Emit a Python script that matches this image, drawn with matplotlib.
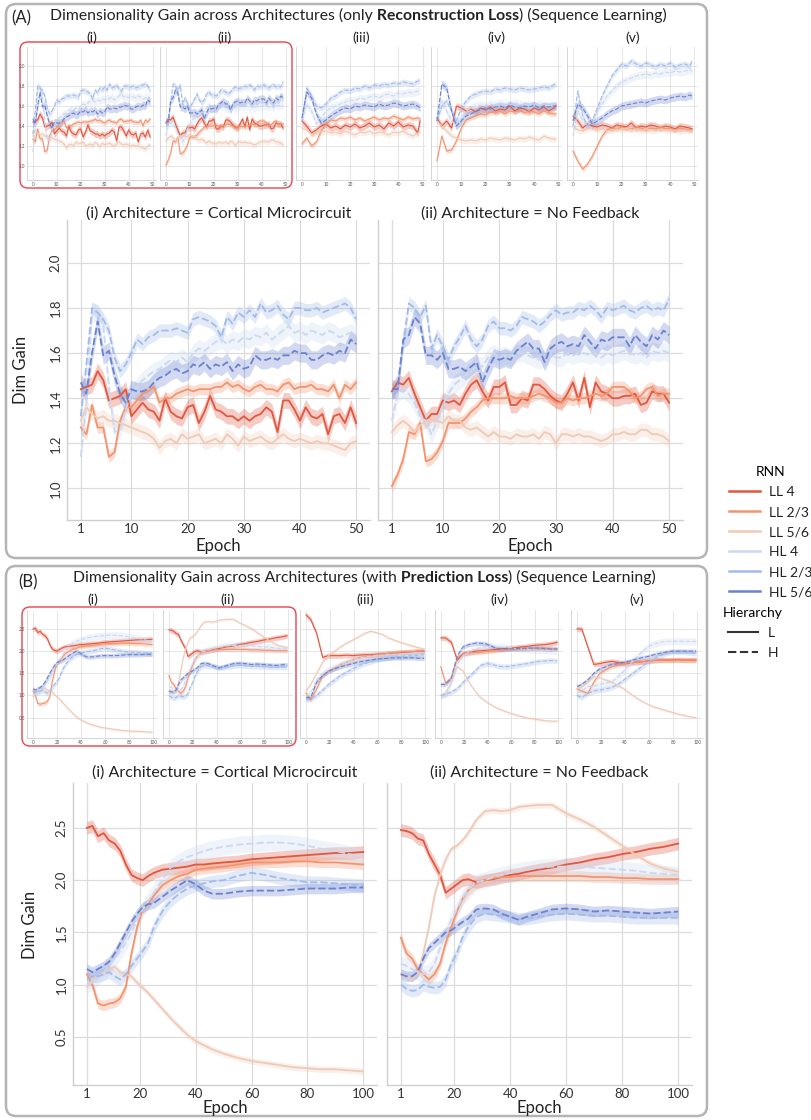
import matplotlib
matplotlib.use("Agg")
import matplotlib.pyplot as plt
from matplotlib.patches import FancyBboxPatch
from matplotlib.lines import Line2D
import numpy as np

W, H = 812, 1120
plt.rcParams['font.family'] = ['Lato', 'DejaVu Sans']

# ---------------------------------------------------------------- data
SERIES = ['LL 4', 'LL 2/3', 'LL 5/6', 'HL 4', 'HL 2/3', 'HL 5/6']
COLORS = ['#e1573f', '#f4946e', '#efcab7', '#cbd8f0', '#a2bbeb', '#6a82cf']
ARCH_NAMES = ['Cortical Microcircuit', 'No Feedback']
ROMAN = ['(i)', '(ii)', '(iii)', '(iv)', '(v)']

# (A) reconstruction loss, 50 epochs
EPOCHS_A = list(range(1, 51))
EPOCHS_A_SMALL = list(range(1, 50, 2)) + [50]
BAND_A = [0.035, 0.025, 0.03, 0.04, 0.03, 0.04]

CM_A_LL4 = [1.44, 1.45, 1.46, 1.52, 1.48, 1.39, 1.40, 1.41, 1.44, 1.32,
            1.35, 1.38, 1.35, 1.34, 1.30, 1.40, 1.34, 1.32, 1.31, 1.36,
            1.37, 1.29, 1.34, 1.41, 1.35, 1.34, 1.32, 1.32, 1.30, 1.32,
            1.30, 1.32, 1.33, 1.36, 1.34, 1.25, 1.39, 1.39, 1.35, 1.30,
            1.36, 1.32, 1.31, 1.33, 1.24, 1.32, 1.33, 1.29, 1.36, 1.29]
CM_A_LL23 = [1.27, 1.24, 1.37, 1.27, 1.27, 1.14, 1.16, 1.30, 1.36, 1.36,
             1.39, 1.42, 1.43, 1.45, 1.38, 1.40, 1.40, 1.42, 1.43, 1.44,
             1.43, 1.44, 1.44, 1.44, 1.45, 1.45, 1.47, 1.45, 1.46, 1.44,
             1.43, 1.45, 1.46, 1.44, 1.44, 1.43, 1.46, 1.47, 1.44, 1.45,
             1.45, 1.46, 1.44, 1.44, 1.43, 1.46, 1.40, 1.46, 1.44, 1.47]
CM_A_LL56 = [1.30, 1.36, 1.33, 1.31, 1.32, 1.30, 1.30, 1.29, 1.28, 1.27,
             1.26, 1.25, 1.24, 1.22, 1.18, 1.21, 1.22, 1.20, 1.24, 1.22,
             1.23, 1.24, 1.20, 1.21, 1.22, 1.20, 1.24, 1.22, 1.19, 1.23,
             1.21, 1.22, 1.23, 1.21, 1.20, 1.22, 1.24, 1.22, 1.21, 1.22,
             1.21, 1.20, 1.21, 1.20, 1.20, 1.19, 1.18, 1.17, 1.20, 1.21]
CM_A_HL4 = [1.14, 1.38, 1.78, 1.78, 1.72, 1.45, 1.25, 1.26, 1.35, 1.42,
            1.45, 1.48, 1.50, 1.52, 1.53, 1.55, 1.57, 1.56, 1.58, 1.56,
            1.60, 1.62, 1.61, 1.63, 1.65, 1.66, 1.64, 1.66, 1.65, 1.67,
            1.66, 1.68, 1.67, 1.69, 1.66, 1.68, 1.70, 1.72, 1.69, 1.70,
            1.68, 1.70, 1.69, 1.68, 1.70, 1.69, 1.67, 1.68, 1.69, 1.68]
CM_A_HL23 = [1.32, 1.55, 1.80, 1.78, 1.75, 1.70, 1.58, 1.52, 1.55, 1.60,
             1.66, 1.64, 1.67, 1.68, 1.70, 1.70, 1.70, 1.71, 1.70, 1.69,
             1.75, 1.76, 1.75, 1.74, 1.72, 1.67, 1.76, 1.73, 1.78, 1.76,
             1.79, 1.76, 1.82, 1.78, 1.79, 1.81, 1.77, 1.75, 1.80, 1.80,
             1.79, 1.79, 1.80, 1.78, 1.79, 1.80, 1.81, 1.82, 1.80, 1.75]
CM_A_HL56 = [1.47, 1.42, 1.60, 1.74, 1.59, 1.61, 1.50, 1.42, 1.38, 1.44,
             1.43, 1.43, 1.44, 1.47, 1.49, 1.50, 1.52, 1.53, 1.51, 1.52,
             1.55, 1.54, 1.56, 1.53, 1.55, 1.54, 1.56, 1.52, 1.55, 1.53,
             1.54, 1.59, 1.57, 1.57, 1.58, 1.57, 1.59, 1.59, 1.61, 1.60,
             1.60, 1.57, 1.57, 1.59, 1.60, 1.59, 1.61, 1.60, 1.66, 1.64]

NF_A_LL4 = [1.43, 1.47, 1.46, 1.49, 1.42, 1.36, 1.30, 1.33, 1.33, 1.39,
            1.38, 1.39, 1.37, 1.42, 1.46, 1.48, 1.43, 1.39, 1.45, 1.45,
            1.47, 1.37, 1.37, 1.40, 1.39, 1.46, 1.46, 1.44, 1.41, 1.39,
            1.38, 1.42, 1.47, 1.39, 1.49, 1.36, 1.47, 1.43, 1.42, 1.40,
            1.40, 1.41, 1.41, 1.42, 1.37, 1.38, 1.43, 1.42, 1.42, 1.38]
NF_A_LL23 = [1.01, 1.06, 1.13, 1.25, 1.24, 1.29, 1.12, 1.13, 1.16, 1.21,
             1.29, 1.29, 1.29, 1.31, 1.34, 1.36, 1.39, 1.40, 1.40, 1.40,
             1.40, 1.41, 1.40, 1.40, 1.40, 1.41, 1.42, 1.41, 1.40, 1.38,
             1.38, 1.40, 1.39, 1.40, 1.40, 1.41, 1.42, 1.41, 1.42, 1.45,
             1.45, 1.45, 1.43, 1.40, 1.41, 1.44, 1.45, 1.41, 1.42, 1.42]
NF_A_LL56 = [1.25, 1.28, 1.30, 1.28, 1.25, 1.28, 1.30, 1.31, 1.30, 1.29,
             1.32, 1.30, 1.30, 1.27, 1.26, 1.27, 1.25, 1.23, 1.25, 1.23,
             1.23, 1.22, 1.24, 1.23, 1.23, 1.24, 1.22, 1.25, 1.24, 1.20,
             1.24, 1.24, 1.23, 1.24, 1.23, 1.23, 1.22, 1.21, 1.22, 1.24,
             1.24, 1.25, 1.24, 1.24, 1.26, 1.26, 1.24, 1.24, 1.23, 1.21]
NF_A_HL4 = [1.30, 1.42, 1.44, 1.42, 1.38, 1.32, 1.30, 1.24, 1.30, 1.37,
            1.42, 1.46, 1.48, 1.50, 1.52, 1.55, 1.54, 1.58, 1.60, 1.58,
            1.59, 1.58, 1.60, 1.60, 1.59, 1.58, 1.57, 1.58, 1.60, 1.58,
            1.58, 1.60, 1.59, 1.60, 1.60, 1.59, 1.60, 1.58, 1.60, 1.59,
            1.60, 1.61, 1.60, 1.59, 1.60, 1.58, 1.61, 1.60, 1.61, 1.60]
NF_A_HL23 = [1.42, 1.44, 1.64, 1.82, 1.80, 1.76, 1.81, 1.62, 1.68, 1.63,
             1.57, 1.63, 1.67, 1.72, 1.66, 1.63, 1.66, 1.72, 1.74, 1.71,
             1.71, 1.70, 1.72, 1.76, 1.75, 1.74, 1.72, 1.74, 1.77, 1.79,
             1.77, 1.78, 1.78, 1.80, 1.79, 1.81, 1.79, 1.76, 1.80, 1.79,
             1.80, 1.81, 1.79, 1.78, 1.80, 1.81, 1.79, 1.80, 1.79, 1.84]
NF_A_HL56 = [1.44, 1.44, 1.66, 1.68, 1.76, 1.73, 1.59, 1.59, 1.57, 1.60,
             1.53, 1.53, 1.54, 1.52, 1.54, 1.56, 1.47, 1.53, 1.58, 1.57,
             1.58, 1.57, 1.61, 1.63, 1.65, 1.62, 1.62, 1.56, 1.62, 1.64,
             1.65, 1.63, 1.64, 1.63, 1.68, 1.65, 1.62, 1.66, 1.65, 1.67,
             1.67, 1.67, 1.63, 1.68, 1.65, 1.63, 1.68, 1.66, 1.70, 1.68]

A3_LL4 = [1.45, 1.40, 1.33, 1.36, 1.40, 1.42, 1.38, 1.40, 1.37, 1.41,
          1.39, 1.42, 1.38, 1.40, 1.43, 1.39, 1.41, 1.37, 1.43, 1.40,
          1.44, 1.39, 1.41, 1.40, 1.33, 1.45]
A3_LL23 = [1.22, 1.28, 1.20, 1.24, 1.35, 1.42, 1.46, 1.45, 1.48, 1.47,
           1.49, 1.46, 1.48, 1.45, 1.47, 1.49, 1.46, 1.48, 1.47, 1.50,
           1.48, 1.46, 1.49, 1.47, 1.48, 1.47]
A3_LL56 = [1.38, 1.36, 1.32, 1.33, 1.34, 1.35, 1.33, 1.34, 1.32, 1.35,
           1.33, 1.31, 1.34, 1.33, 1.35, 1.32, 1.34, 1.33, 1.31, 1.34,
           1.33, 1.35, 1.32, 1.30, 1.33, 1.34]
A3_HL4 = [1.45, 1.62, 1.55, 1.42, 1.48, 1.55, 1.58, 1.60, 1.62, 1.64,
          1.66, 1.65, 1.68, 1.67, 1.69, 1.70, 1.68, 1.71, 1.72, 1.70,
          1.73, 1.72, 1.74, 1.73, 1.75, 1.75]
A3_HL23 = [1.45, 1.78, 1.70, 1.60, 1.58, 1.62, 1.68, 1.70, 1.74, 1.76,
           1.75, 1.78, 1.77, 1.80, 1.78, 1.81, 1.80, 1.82, 1.81, 1.83,
           1.82, 1.84, 1.83, 1.82, 1.85, 1.85]
A3_HL56 = [1.48, 1.74, 1.68, 1.52, 1.43, 1.46, 1.50, 1.53, 1.56, 1.58,
           1.57, 1.60, 1.59, 1.61, 1.60, 1.59, 1.62, 1.60, 1.61, 1.63,
           1.62, 1.60, 1.61, 1.62, 1.60, 1.58]

A4_LL4 = [1.48, 1.40, 1.45, 1.38, 1.60, 1.58, 1.55, 1.57, 1.54, 1.58,
          1.56, 1.59, 1.55, 1.57, 1.56, 1.60, 1.55, 1.58, 1.57, 1.54,
          1.58, 1.56, 1.59, 1.55, 1.58, 1.60]
A4_LL23 = [1.05, 1.30, 1.15, 1.16, 1.25, 1.38, 1.46, 1.48, 1.50, 1.52,
           1.51, 1.54, 1.53, 1.55, 1.52, 1.55, 1.54, 1.56, 1.53, 1.55,
           1.54, 1.52, 1.55, 1.53, 1.52, 1.52]
A4_LL56 = [1.45, 1.40, 1.35, 1.30, 1.28, 1.26, 1.25, 1.26, 1.25, 1.27,
           1.26, 1.28, 1.27, 1.26, 1.28, 1.27, 1.26, 1.28, 1.27, 1.29,
           1.27, 1.26, 1.30, 1.28, 1.27, 1.27]
A4_HL4 = [1.50, 1.65, 1.55, 1.45, 1.40, 1.48, 1.55, 1.58, 1.60, 1.61,
          1.60, 1.62, 1.61, 1.63, 1.62, 1.61, 1.63, 1.62, 1.61, 1.62,
          1.60, 1.62, 1.61, 1.60, 1.61, 1.60]
A4_HL23 = [1.45, 1.60, 1.65, 1.55, 1.45, 1.58, 1.65, 1.70, 1.72, 1.74,
           1.75, 1.74, 1.77, 1.76, 1.78, 1.77, 1.76, 1.78, 1.77, 1.76,
           1.77, 1.78, 1.79, 1.78, 1.81, 1.82]
A4_HL56 = [1.45, 1.82, 1.78, 1.55, 1.40, 1.45, 1.50, 1.52, 1.55, 1.56,
           1.58, 1.57, 1.59, 1.60, 1.58, 1.61, 1.59, 1.58, 1.60, 1.59,
           1.61, 1.58, 1.60, 1.59, 1.60, 1.60]

A5_LL4 = [1.50, 1.45, 1.38, 1.42, 1.40, 1.39, 1.41, 1.40, 1.38, 1.41,
          1.40, 1.39, 1.43, 1.38, 1.40, 1.39, 1.41, 1.40, 1.38, 1.40,
          1.39, 1.37, 1.40, 1.39, 1.38, 1.37]
A5_LL23 = [1.15, 1.05, 0.97, 1.02, 1.10, 1.20, 1.30, 1.36, 1.38, 1.37,
           1.39, 1.38, 1.37, 1.39, 1.38, 1.36, 1.38, 1.37, 1.39, 1.37,
           1.38, 1.36, 1.38, 1.37, 1.36, 1.36]
A5_LL56 = [1.40, 1.36, 1.35, 1.37, 1.38, 1.36, 1.37, 1.35, 1.36, 1.37,
           1.36, 1.38, 1.36, 1.37, 1.35, 1.37, 1.36, 1.35, 1.37, 1.36,
           1.35, 1.36, 1.34, 1.36, 1.35, 1.35]
A5_HL4 = [1.30, 1.55, 1.45, 1.40, 1.45, 1.55, 1.62, 1.70, 1.75, 1.80,
          1.84, 1.86, 1.88, 1.90, 1.91, 1.92, 1.91, 1.93, 1.92, 1.94,
          1.93, 1.95, 1.94, 1.95, 1.96, 1.95]
A5_HL23 = [1.40, 1.75, 1.50, 1.40, 1.45, 1.58, 1.70, 1.80, 1.90, 1.96,
           2.02, 2.00, 2.05, 2.02, 2.00, 2.03, 2.01, 1.99, 2.02, 2.00,
           2.03, 1.99, 2.01, 2.02, 2.00, 2.05]
A5_HL56 = [1.45, 1.62, 1.58, 1.50, 1.42, 1.45, 1.48, 1.52, 1.55, 1.57,
           1.60, 1.61, 1.62, 1.63, 1.64, 1.63, 1.65, 1.66, 1.67, 1.66,
           1.68, 1.69, 1.70, 1.69, 1.71, 1.70]

# (B) prediction loss, 100 epochs
EPOCHS_B = [1, 3, 5, 7, 9, 11, 13, 15, 17, 19,
            21, 23, 25, 28, 31, 34, 37, 40, 43, 46,
            50, 55, 60, 65, 70, 75, 80, 85, 90, 95, 100]
EPOCHS_B_SMALL = [1] + list(range(5, 101, 5))
BAND_B = [0.06, 0.05, 0.03, 0.08, 0.06, 0.05]

CM_B_LL4 = [2.50, 2.52, 2.42, 2.45, 2.38, 2.35, 2.28, 2.15, 2.05, 2.02,
            2.00, 2.04, 2.07, 2.10, 2.11, 2.12, 2.13, 2.15, 2.15, 2.16,
            2.17, 2.18, 2.20, 2.21, 2.22, 2.23, 2.24, 2.25, 2.26, 2.26, 2.27]
CM_B_LL23 = [1.10, 1.00, 0.82, 0.80, 0.82, 0.83, 0.87, 0.98, 1.30, 1.55,
             1.72, 1.78, 1.85, 1.95, 2.00, 2.04, 2.06, 2.10, 2.11, 2.12,
             2.13, 2.15, 2.17, 2.17, 2.17, 2.18, 2.18, 2.17, 2.17, 2.16, 2.15]
CM_B_LL56 = [0.98, 1.05, 1.08, 1.12, 1.15, 1.17, 1.12, 1.10, 1.08, 1.02,
             0.97, 0.92, 0.86, 0.77, 0.68, 0.60, 0.52, 0.46, 0.42, 0.38,
             0.34, 0.30, 0.27, 0.25, 0.23, 0.21, 0.20, 0.19, 0.19, 0.18, 0.17]
CM_B_HL4 = [1.00, 1.02, 1.08, 1.12, 1.18, 1.25, 1.32, 1.40, 1.50, 1.62,
            1.72, 1.80, 1.88, 2.00, 2.12, 2.18, 2.22, 2.25, 2.28, 2.30,
            2.32, 2.34, 2.35, 2.36, 2.36, 2.35, 2.33, 2.30, 2.28, 2.25, 2.22]
CM_B_HL23 = [1.05, 1.08, 1.08, 1.10, 1.12, 1.08, 1.05, 1.10, 1.18, 1.25,
             1.32, 1.40, 1.55, 1.70, 1.80, 1.87, 1.92, 1.95, 1.97, 1.99,
             2.00, 2.04, 2.07, 2.05, 2.02, 2.00, 1.98, 1.98, 1.97, 1.96, 1.95]
CM_B_HL56 = [1.15, 1.12, 1.15, 1.18, 1.22, 1.30, 1.40, 1.50, 1.60, 1.68,
             1.74, 1.77, 1.78, 1.84, 1.90, 1.95, 2.00, 1.96, 1.90, 1.87,
             1.87, 1.89, 1.90, 1.90, 1.90, 1.91, 1.92, 1.92, 1.92, 1.93, 1.93]

NF_B_LL4 = [2.48, 2.47, 2.45, 2.40, 2.38, 2.25, 2.15, 2.05, 1.88, 1.92,
            1.96, 2.00, 2.01, 1.98, 2.00, 2.01, 2.03, 2.05, 2.06, 2.08,
            2.10, 2.12, 2.15, 2.17, 2.20, 2.22, 2.25, 2.27, 2.30, 2.32, 2.35]
NF_B_LL23 = [1.45, 1.30, 1.25, 1.15, 1.10, 1.05, 1.10, 1.20, 1.40, 1.55,
             1.70, 1.82, 1.90, 1.97, 2.00, 2.02, 2.03, 2.03, 2.04, 2.04,
             2.04, 2.04, 2.04, 2.04, 2.03, 2.03, 2.02, 2.02, 2.01, 2.01, 2.01]
NF_B_LL56 = [1.10, 1.08, 1.06, 1.10, 1.30, 1.55, 1.85, 2.05, 2.20, 2.30,
             2.33, 2.38, 2.45, 2.58, 2.66, 2.67, 2.66, 2.67, 2.70, 2.71,
             2.72, 2.72, 2.64, 2.58, 2.51, 2.42, 2.33, 2.24, 2.16, 2.11, 2.08]
NF_B_HL4 = [1.20, 1.18, 1.15, 1.12, 1.10, 1.12, 1.20, 1.35, 1.48, 1.62,
            1.72, 1.83, 1.90, 1.98, 2.00, 2.03, 2.05, 2.07, 2.09, 2.10,
            2.12, 2.13, 2.13, 2.13, 2.12, 2.11, 2.10, 2.09, 2.07, 2.06, 2.05]
NF_B_HL23 = [1.00, 0.96, 0.94, 0.95, 1.00, 0.98, 0.97, 0.98, 1.05, 1.20,
             1.30, 1.45, 1.55, 1.65, 1.68, 1.67, 1.66, 1.65, 1.63, 1.63,
             1.65, 1.67, 1.68, 1.67, 1.66, 1.66, 1.65, 1.64, 1.64, 1.64, 1.64]
NF_B_HL56 = [1.10, 1.08, 1.08, 1.12, 1.25, 1.35, 1.40, 1.45, 1.50, 1.52,
             1.56, 1.60, 1.63, 1.72, 1.73, 1.72, 1.68, 1.65, 1.62, 1.65,
             1.68, 1.72, 1.73, 1.72, 1.70, 1.71, 1.70, 1.69, 1.68, 1.69, 1.70]

B3_LL4 = [2.82, 2.72, 2.40, 1.86, 1.90, 1.90, 1.90, 1.91, 1.90, 1.91,
          1.92, 1.92, 1.93, 1.94, 1.95, 1.96, 1.97, 1.98, 1.99, 2.00, 2.00]
B3_LL23 = [1.05, 0.90, 1.15, 1.45, 1.55, 1.62, 1.70, 1.75, 1.80, 1.84,
           1.88, 1.90, 1.92, 1.94, 1.95, 1.97, 1.98, 1.99, 1.99, 2.00, 2.00]
B3_LL56 = [1.10, 1.25, 1.50, 1.75, 1.90, 2.00, 2.10, 2.18, 2.25, 2.32,
           2.40, 2.45, 2.42, 2.38, 2.30, 2.25, 2.20, 2.16, 2.12, 2.08, 2.05]
B3_HL4 = [1.00, 1.05, 1.35, 1.50, 1.58, 1.64, 1.70, 1.75, 1.80, 1.84,
          1.87, 1.89, 1.90, 1.91, 1.92, 1.93, 1.93, 1.94, 1.95, 1.96, 1.97]
B3_HL23 = [0.90, 0.92, 1.00, 1.12, 1.25, 1.35, 1.45, 1.52, 1.60, 1.66,
           1.72, 1.76, 1.80, 1.83, 1.85, 1.87, 1.88, 1.89, 1.90, 1.91, 1.92]
B3_HL56 = [0.95, 0.95, 1.30, 1.45, 1.55, 1.60, 1.65, 1.68, 1.72, 1.75,
           1.78, 1.80, 1.82, 1.83, 1.84, 1.85, 1.85, 1.85, 1.85, 1.84, 1.84]

B4_LL4 = [2.30, 2.30, 2.20, 1.80, 1.95, 1.97, 2.00, 2.01, 2.02, 2.03,
          2.05, 2.06, 2.07, 2.08, 2.10, 2.11, 2.13, 2.14, 2.15, 2.17, 2.20]
B4_LL23 = [1.65, 1.28, 1.40, 1.85, 1.95, 1.96, 1.97, 1.98, 2.00, 2.01,
           2.02, 2.03, 2.05, 2.05, 2.05, 2.05, 2.05, 2.05, 2.05, 2.05, 2.05]
B4_LL56 = [1.00, 1.05, 1.30, 1.65, 1.55, 1.30, 1.10, 0.95, 0.85, 0.77,
           0.70, 0.65, 0.60, 0.56, 0.52, 0.49, 0.47, 0.45, 0.43, 0.42, 0.42]
B4_HL4 = [0.95, 1.05, 1.30, 1.70, 1.90, 1.98, 2.05, 2.08, 2.10, 2.10,
          2.10, 2.09, 2.08, 2.06, 2.05, 2.04, 2.03, 2.02, 2.02, 2.01, 2.00]
B4_HL23 = [1.00, 1.02, 1.08, 1.15, 1.30, 1.42, 1.55, 1.68, 1.72, 1.70,
           1.66, 1.65, 1.66, 1.68, 1.70, 1.72, 1.75, 1.77, 1.78, 1.79, 1.78]
B4_HL56 = [1.25, 1.25, 1.40, 1.90, 2.10, 2.15, 2.18, 2.18, 2.16, 2.10,
           2.05, 2.05, 2.05, 2.06, 2.06, 2.07, 2.07, 2.07, 2.06, 2.05, 2.05]

B5_LL4 = [2.50, 2.50, 2.10, 1.70, 1.72, 1.75, 1.77, 1.75, 1.72, 1.73,
          1.75, 1.76, 1.78, 1.79, 1.80, 1.80, 1.80, 1.81, 1.80, 1.80, 1.80]
B5_LL23 = [1.15, 1.10, 1.05, 1.30, 1.50, 1.58, 1.65, 1.68, 1.72, 1.74,
           1.75, 1.76, 1.78, 1.79, 1.80, 1.80, 1.80, 1.80, 1.80, 1.80, 1.80]
B5_LL56 = [1.15, 1.20, 1.30, 1.42, 1.40, 1.35, 1.30, 1.22, 1.15, 1.05,
           0.95, 0.87, 0.80, 0.74, 0.70, 0.66, 0.62, 0.58, 0.55, 0.52, 0.50]
B5_HL4 = [1.05, 1.10, 1.20, 1.20, 1.25, 1.28, 1.30, 1.42, 1.55, 1.70,
          1.85, 1.98, 2.10, 2.16, 2.20, 2.22, 2.22, 2.23, 2.22, 2.22, 2.22]
B5_HL23 = [1.00, 0.95, 1.05, 1.10, 1.12, 1.15, 1.18, 1.25, 1.35, 1.45,
           1.55, 1.65, 1.75, 1.83, 1.90, 1.95, 1.98, 1.98, 1.98, 1.96, 1.95]
B5_HL56 = [1.20, 1.25, 1.35, 1.50, 1.60, 1.65, 1.70, 1.72, 1.75, 1.78,
           1.82, 1.85, 1.88, 1.92, 1.95, 1.98, 2.00, 2.00, 2.00, 2.00, 2.00]

CM_A = [CM_A_LL4, CM_A_LL23, CM_A_LL56, CM_A_HL4, CM_A_HL23, CM_A_HL56]
NF_A = [NF_A_LL4, NF_A_LL23, NF_A_LL56, NF_A_HL4, NF_A_HL23, NF_A_HL56]
A3 = [A3_LL4, A3_LL23, A3_LL56, A3_HL4, A3_HL23, A3_HL56]
A4 = [A4_LL4, A4_LL23, A4_LL56, A4_HL4, A4_HL23, A4_HL56]
A5 = [A5_LL4, A5_LL23, A5_LL56, A5_HL4, A5_HL23, A5_HL56]
CM_B = [CM_B_LL4, CM_B_LL23, CM_B_LL56, CM_B_HL4, CM_B_HL23, CM_B_HL56]
NF_B = [NF_B_LL4, NF_B_LL23, NF_B_LL56, NF_B_HL4, NF_B_HL23, NF_B_HL56]
B3 = [B3_LL4, B3_LL23, B3_LL56, B3_HL4, B3_HL23, B3_HL56]
B4 = [B4_LL4, B4_LL23, B4_LL56, B4_HL4, B4_HL23, B4_HL56]
B5 = [B5_LL4, B5_LL23, B5_LL56, B5_HL4, B5_HL23, B5_HL56]

# ---------------------------------------------------------------- helpers
GRID = '#dcdcdc'
SPINE = '#cfcfcf'
TEXT = '#222222'
DASH = (0, (4, 1.7))


def make_ax(x0, y0, x1, y1):
    return fig.add_axes([x0 / W, 1 - y1 / H, (x1 - x0) / W, (y1 - y0) / H])


def draw_lines(ax, epochs, values, band, lw, shift=0):
    x = np.asarray(epochs, dtype=float) - shift
    for name, col, y, b in zip(SERIES, COLORS, values, band):
        y = np.asarray(y, dtype=float)
        ax.fill_between(x, y - b, y + b, color=col, alpha=0.3, lw=0)
        ls = DASH if name.startswith('HL') else '-'
        ax.plot(x, y, color=col, lw=lw, ls=ls)


def style_ax(ax, small):
    ax.set_facecolor('white')
    ax.grid(True, color=GRID, lw=0.5 if small else 0.9)
    ax.set_axisbelow(True)
    for s in ['top', 'right']:
        ax.spines[s].set_visible(False)
    for s in ['left', 'bottom']:
        ax.spines[s].set_color(SPINE)
        ax.spines[s].set_linewidth(0.6 if small else 1.0)
    if small:
        ax.tick_params(length=0, labelsize=3.3, labelcolor='#555555', pad=1.5)
    else:
        ax.tick_params(length=0, labelsize=9.5, labelcolor='#333333', pad=4)
        ax.tick_params(axis='x', pad=2.5)


def chain_title(ax, x, y, parts, size):
    t = ax.text(x, y, parts[0][0], fontsize=size, fontweight=parts[0][1],
                ha='left', va='center', color=TEXT)
    for s, wt in parts[1:]:
        t = ax.annotate(s, xy=(1, 0), xycoords=t, ha='left', va='bottom',
                        fontsize=size, fontweight=wt, color=TEXT)


def rbox(ax, x0, y0, x1, y1, color, lw, r):
    ax.add_patch(FancyBboxPatch((x0, y0), x1 - x0, y1 - y0,
                                boxstyle=f'round,pad=0,rounding_size={r}',
                                fc='none', ec=color, lw=lw))


# ---------------------------------------------------------------- figure
fig = plt.figure(figsize=(W / 100, H / 100), dpi=100)
fig.patch.set_facecolor('white')

ov = fig.add_axes([0, 0, 1, 1])
ov.set_xlim(0, W)
ov.set_ylim(H, 0)
ov.axis('off')

rbox(ov, 6, 4, 707, 558, '#b4b4b4', 1.8, 10)
rbox(ov, 6, 566, 707, 1116, '#b4b4b4', 1.8, 10)
rbox(ov, 20, 42, 292, 188, '#e8434d', 1.0, 8)
rbox(ov, 22, 607, 296, 746, '#e8434d', 1.0, 8)

ov.text(21, 18, '(A)', fontsize=12, ha='center', va='center', color=TEXT)
ov.text(28, 582, '(B)', fontsize=12, ha='center', va='center', color=TEXT)
chain_title(ov, 50, 15, [('Dimensionality Gain across Architectures (only', 'normal'),
                         (' Reconstruction Loss', 'bold'),
                         (') (Sequence Learning)', 'normal')], 11.3)
chain_title(ov, 73, 577, [('Dimensionality Gain across Architectures (with', 'normal'),
                          (' Prediction Loss', 'bold'),
                          (') (Sequence Learning)', 'normal')], 11.3)

SMALL_A = [(27, 47, 156, 180), (160, 47, 289, 180), (296, 47, 426, 180),
           (431, 47, 562, 180), (567, 47, 698, 180)]
SMALL_B = [(27, 610, 158, 738), (163, 610, 293, 738), (300, 610, 430, 738),
           (435, 610, 563, 738), (571, 610, 702, 738)]
BIG_A = [(67, 220, 370, 520), (378, 220, 683, 520)]
BIG_B = [(73, 783, 377, 1085), (387, 783, 692, 1085)]

YLIM_A = (0.86, 2.19)
YLIM_B = (0.04, 2.93)
YT_A = [1.0, 1.2, 1.4, 1.6, 1.8, 2.0]
YT_B = [0.5, 1.0, 1.5, 2.0, 2.5]

small_sets = [
    (SMALL_A, [(EPOCHS_A, CM_A), (EPOCHS_A, NF_A), (EPOCHS_A_SMALL, A3),
               (EPOCHS_A_SMALL, A4), (EPOCHS_A_SMALL, A5)],
     BAND_A, YLIM_A, YT_A, [0, 10, 20, 30, 40, 50], 38),
    (SMALL_B, [(EPOCHS_B, CM_B), (EPOCHS_B, NF_B), (EPOCHS_B_SMALL, B3),
               (EPOCHS_B_SMALL, B4), (EPOCHS_B_SMALL, B5)],
     BAND_B, YLIM_B, YT_B, [0, 20, 40, 60, 80, 100], 600),
]

for rects, datasets, band, ylim, yt, xt, ty in small_sets:
    for k, (rect, (ep, vals)) in enumerate(zip(rects, datasets)):
        ax = make_ax(*rect)
        style_ax(ax, True)
        draw_lines(ax, ep, vals, band, 0.8, shift=1)
        ax.set_ylim(*ylim)
        ax.set_yticks(yt)
        ax.set_xticks(xt)
        if k > 0:
            ax.set_yticklabels([])
        ov.text((rect[0] + rect[2]) / 2, ty, ROMAN[k], fontsize=10,
                ha='center', va='center', color=TEXT)

big_sets = [
    (BIG_A, [(EPOCHS_A, CM_A), (EPOCHS_A, NF_A)], BAND_A, YLIM_A, YT_A,
     [1, 10, 20, 30, 40, 50], 214, 546, (21, 370)),
    (BIG_B, [(EPOCHS_B, CM_B), (EPOCHS_B, NF_B)], BAND_B, YLIM_B, YT_B,
     [1, 20, 40, 60, 80, 100], 773, 1108, (30, 925)),
]

for rects, datasets, band, ylim, yt, xt, ty, ey, dg in big_sets:
    for k, (rect, (ep, vals)) in enumerate(zip(rects, datasets)):
        ax = make_ax(*rect)
        style_ax(ax, False)
        draw_lines(ax, ep, vals, band, 1.3)
        ax.set_ylim(*ylim)
        ax.set_yticks(yt)
        ax.set_xticks(xt)
        if k > 0:
            ax.set_yticklabels([])
        else:
            for lab in ax.get_yticklabels():
                lab.set_rotation(90)
                lab.set_va('center')
        cx = (rect[0] + rect[2]) / 2
        ov.text(cx, ty, f'{ROMAN[k]} Architecture = {ARCH_NAMES[k]}',
                fontsize=11.5, ha='center', va='center', color=TEXT)
        ov.text(cx, ey, 'Epoch', fontsize=12, ha='center', va='center',
                color=TEXT)
    ov.text(dg[0], dg[1], 'Dim Gain', fontsize=12, rotation=90,
            ha='center', va='center', color=TEXT)

# ---------------------------------------------------------------- legends
rnn_handles = [Line2D([], [], color=c, lw=1.8) for c in COLORS]
leg1 = fig.legend(rnn_handles, SERIES, title='RNN', loc='upper left',
                  bbox_to_anchor=(729 / W, 1 - 466 / H), frameon=False,
                  fontsize=10, title_fontsize=10, borderpad=0,
                  borderaxespad=0, handlelength=2.2, handletextpad=0.65,
                  labelspacing=0.58)
hier_handles = [Line2D([], [], color='#333333', lw=1.5, ls='-'),
                Line2D([], [], color='#333333', lw=1.5, ls=DASH)]
leg2 = fig.legend(hier_handles, ['L', 'H'], title='Hierarchy', loc='upper left',
                  bbox_to_anchor=(723 / W, 1 - 607 / H), frameon=False,
                  fontsize=10, title_fontsize=10, borderpad=0,
                  borderaxespad=0, handlelength=2.2, handletextpad=0.65,
                  labelspacing=0.58)
for t in leg1.get_texts() + leg2.get_texts():
    t.set_color(TEXT)

fig.savefig('out.png', dpi=100, facecolor='white')
